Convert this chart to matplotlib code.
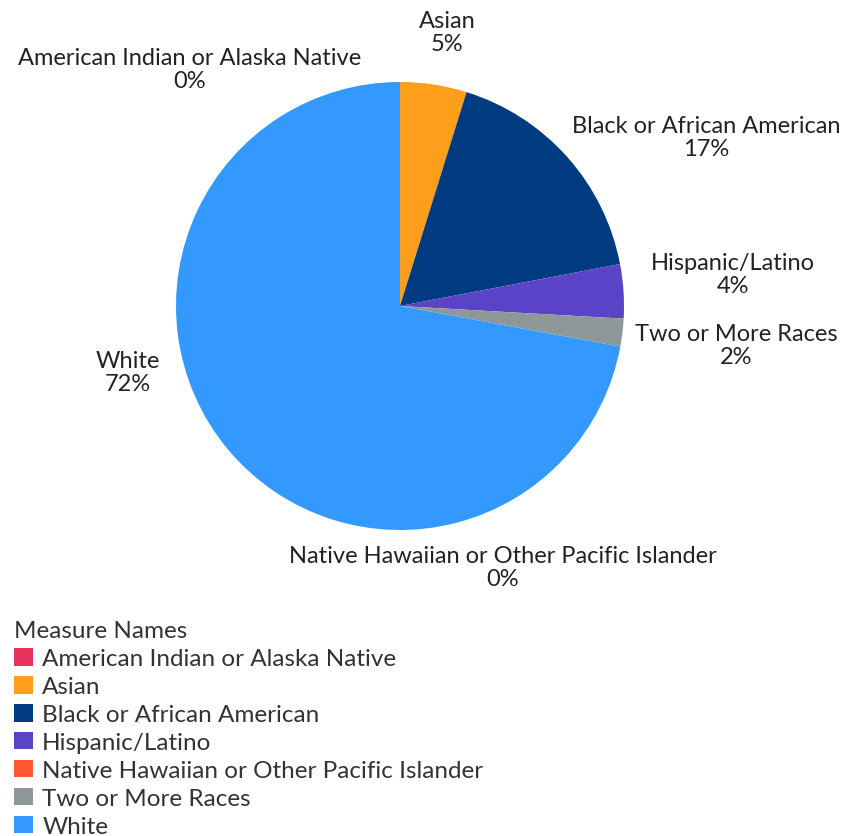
import matplotlib
matplotlib.use('Agg')
import matplotlib.pyplot as plt
from matplotlib.patches import Patch

plt.rcParams['font.family'] = ['Lato', 'DejaVu Sans']

# data
categories = ['American Indian or Alaska Native', 'Asian', 'Black or African American',
              'Hispanic/Latino', 'Native Hawaiian or Other Pacific Islander',
              'Two or More Races', 'White']
shares = [0.0, 4.8, 17.2, 3.9, 0.0, 2.0, 72.1]
pct_labels = ['0%', '5%', '17%', '4%', '0%', '2%', '72%']
colors = ['#E8315B', '#FF9E1B', '#003A80', '#5B43C8', '#FF5733', '#8F9898', '#3399FF']

# label centres in pixels (layout only)
label_xy = [(190, 70), (447, 33), (706, 138), (733, 275), (503, 568), (736, 346), (128, 373)]

W, H = 844, 837
fig = plt.figure(figsize=(W / 100, H / 100), dpi=100)

cx, cy, r = 400, 307, 224
ax = fig.add_axes([(cx - r) / W, (H - cy - r) / H, 2 * r / W, 2 * r / H])
ax.pie(shares, colors=colors, startangle=90, counterclock=False, radius=1,
       wedgeprops=dict(linewidth=0))
ax.set_xlim(-1, 1)
ax.set_ylim(-1, 1)
ax.set_aspect('equal')
ax.axis('off')

txt_color = '#222222'
for name, pct, (x, y) in zip(categories, pct_labels, label_xy):
    fig.text(x / W, 1 - y / H, name + '\n' + pct, ha='center', va='center',
             fontsize=17, color=txt_color, linespacing=1.1)

handles = [Patch(facecolor=c, edgecolor='none') for c in colors]
leg = fig.legend(handles, categories, loc='upper left', bbox_to_anchor=(7 / W, 1 - 614 / H),
                 title='Measure Names', frameon=False, fontsize=17.5, title_fontsize=17.5,
                 handlelength=0.75, handleheight=0.75, handletextpad=0.4,
                 labelspacing=0.27, borderpad=0.3, borderaxespad=0, alignment='left')
for t in leg.get_texts():
    t.set_color('#333333')
leg.get_title().set_color('#333333')

fig.savefig('out.png', dpi=100, facecolor='white')
